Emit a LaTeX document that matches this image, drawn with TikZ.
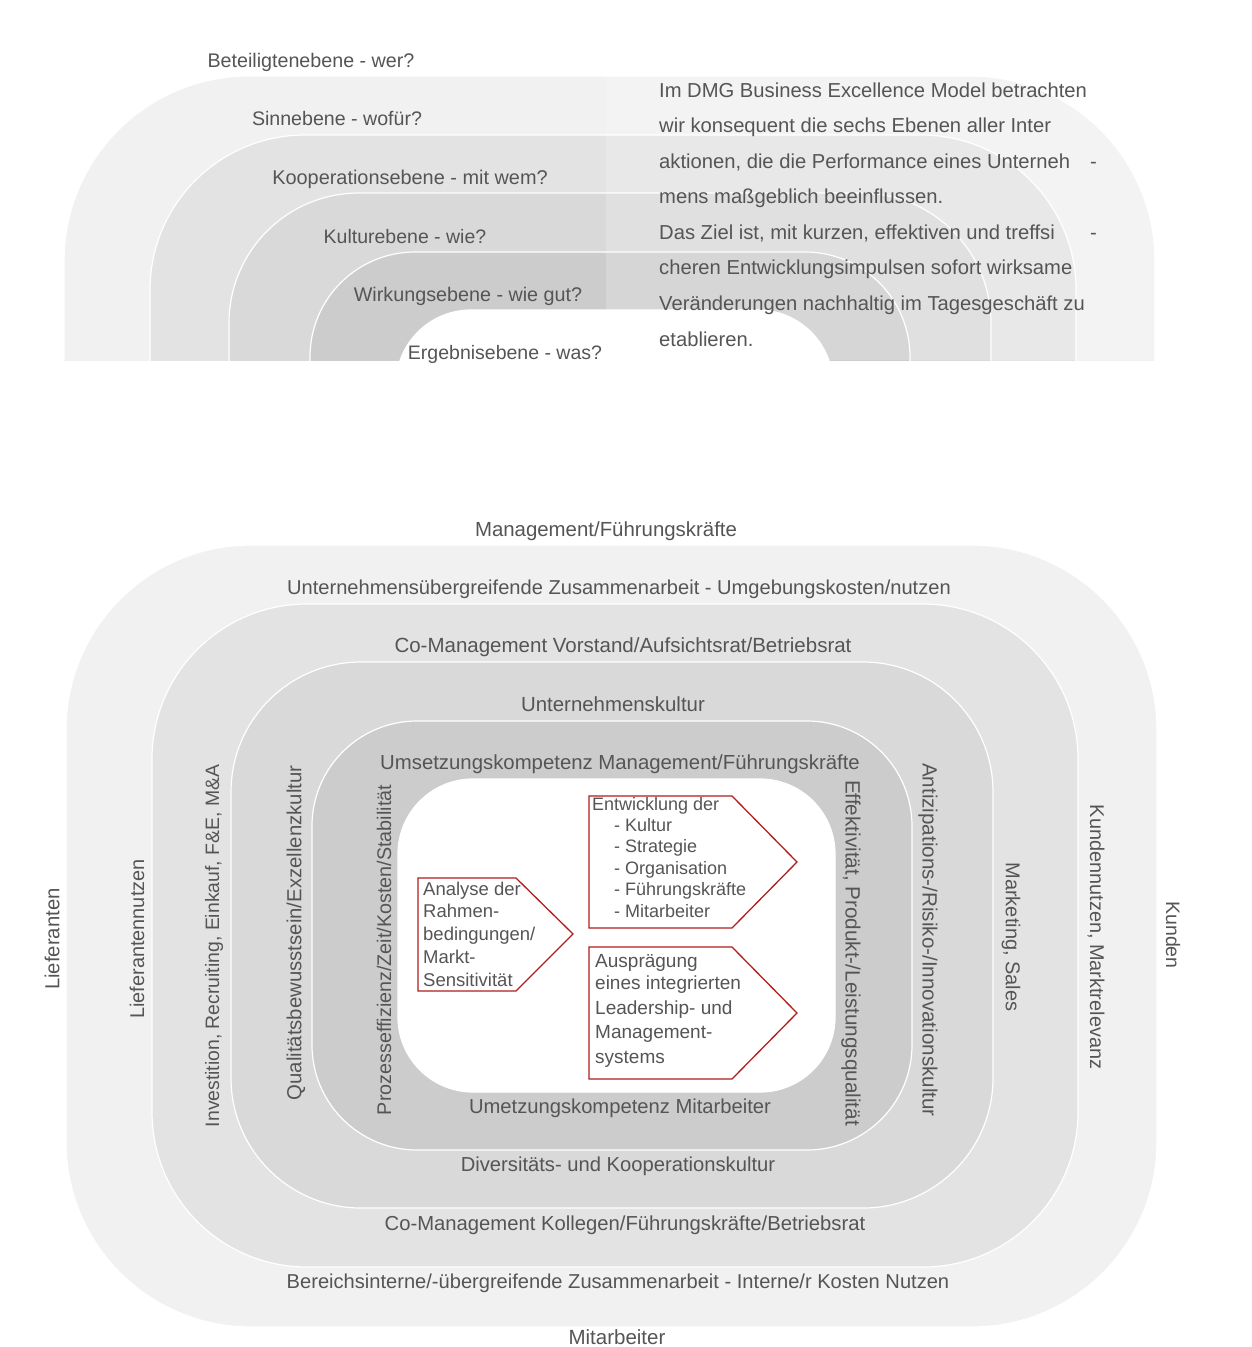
\documentclass[tikz,border=0pt]{standalone}
\usepackage{fontspec}
\setmainfont{Liberation Sans}
\definecolor{txt}{HTML}{555555}
\definecolor{bandA}{HTML}{F1F1F1}
\definecolor{bandB}{HTML}{E3E3E3}
\definecolor{bandC}{HTML}{D9D9D9}
\definecolor{bandD}{HTML}{CCCCCC}
\definecolor{dmgred}{HTML}{B01E1E}
\newcommand\drawbandset{%
  \draw[band, fill=bandA, rounded corners=185pt] (66,545) rectangle (1157,1327);
  \draw[band, fill=bandB, rounded corners=155pt] (152,604) rectangle (1078,1267);
  \draw[band, fill=bandC, rounded corners=130pt] (231,662) rectangle (993,1208);
  \draw[band, fill=bandD, rounded corners=105pt] (312,721) rectangle (912,1150);
  \draw[band, fill=white, rounded corners=75pt] (398,779) rectangle (835,1092);
}
\begin{document}
\begin{tikzpicture}[x=1pt,y=-1pt,
  band/.style={draw=white, line width=1.2pt},
  fsz/.style={font=\fontsize{#1}{#1}\selectfont},
  lbl/.style={anchor=base, inner sep=0pt, text=txt, fsz=20.3},
  para/.style={anchor=base west, inner sep=0pt, text=txt, fsz=20.2},
  vup/.style={rotate=90, anchor=center, inner sep=0pt, text=txt, fsz=20},
  vdown/.style={rotate=-90, anchor=center, inner sep=0pt, text=txt, fsz=20},
  redbox/.style={draw=dmgred, line width=1.3pt},
  boxtxt/.style={anchor=base west, inner sep=0pt, text=txt}
]
\fill[white] (0,0) rectangle (1251,1347);
\useasboundingbox (0,0) rectangle (1251,1347);

% ---------- top: six levels ----------
\begin{scope}
  \clip (0,0) rectangle (1251,360);
  \begin{scope}[shift={(-2,-469)}]
    \drawbandset
  \end{scope}
  \fill[white, opacity=0.2] (606,76) rectangle (1170,360);
\end{scope}

\node[lbl, fsz=19.7] (l1) at (311,67) {Beteiligtenebene - wer?};
\node[lbl, fsz=19.6] (l2) at (337,125) {Sinnebene - wofür?};
\node[lbl, fsz=19.9] (l3) at (410,184) {Kooperationsebene - mit wem?};
\node[lbl, fsz=19.5] (l4) at (405,243) {Kulturebene - wie?};
\node[lbl, fsz=19.75] (l5) at (468,301) {Wirkungsebene - wie gut?};
\node[lbl, fsz=19.5] (l6) at (505,359) {Ergebnisebene - was?};

\node[para] (p1) at (659,97) {Im DMG Business Excellence Model betrachten};
\node[para] (p2) at (659,132) {wir konsequent die sechs Ebenen aller Inter};
\node[para] (p3) at (659,168) {aktionen, die die Performance eines Unterneh};
\node[para] (p4) at (659,203) {mens maßgeblich beeinflussen.};
\node[para] (p5) at (659,239) {Das Ziel ist, mit kurzen, effektiven und treffsi};
\node[para] (p6) at (659,274) {cheren Entwicklungsimpulsen sofort wirksame};
\node[para] (p7) at (659,310) {Veränderungen nachhaltig im Tagesgeschäft zu};
\node[para] (p8) at (659,346) {etablieren.};
\node[para] (d1) at (1090,168) {-};
\node[para] (d2) at (1090,239) {-};

% ---------- bottom: model ----------
\drawbandset

\node[lbl, fsz=20.4] (t0) at (606,536) {Management/Führungskräfte};
\node[lbl, fsz=20.1] (t1) at (619,594) {Unternehmensübergreifende Zusammenarbeit - Umgebungskosten/nutzen};
\node[lbl, fsz=20.5] (t2) at (623,652) {Co-Management Vorstand/Aufsichtsrat/Betriebsrat};
\node[lbl, fsz=20.4] (t3) at (613,711) {Unternehmenskultur};
\node[lbl, fsz=20.35] (t4) at (620,769) {Umsetzungskompetenz Management/Führungskräfte};
\node[lbl, fsz=20.2] (b4) at (620,1113) {Umetzungskompetenz Mitarbeiter};
\node[lbl, fsz=20.2] (b3) at (618,1171) {Diversitäts- und Kooperationskultur};
\node[lbl, fsz=20.25] (b2) at (625,1230) {Co-Management Kollegen/Führungskräfte/Betriebsrat};
\node[lbl, fsz=20.1] (b1) at (618,1288) {Bereichsinterne/-übergreifende Zusammenarbeit - Interne/r Kosten Nutzen};
\node[lbl, fsz=20.5] (b0) at (617,1344.5) {Mitarbeiter};

\node[vup, fsz=20.3] (v0) at (52,939) {Lieferanten};
\node[vup, fsz=19.9] (v1) at (137,939) {Lieferantennutzen};
\node[vup, fsz=19.4] (v2) at (214,946) {Investition, Recruiting, Einkauf, F\&E, M\&A};
\node[vup, fsz=20.35] (v3) at (296,933) {Qualitätsbewusstsein/Exzellenzkultur};
\node[vup, fsz=19.75] (v4) at (384,950) {Prozesseffizienz/Zeit/Kosten/Stabilität};

\node[vdown, fsz=20.7] (r4) at (851,953) {Effektivität, Produkt-/Leistungsqualität};
\node[vdown, fsz=20.6] (r3) at (928,940) {Antizipations-/Risiko-/Innovationskultur};
\node[vdown, fsz=20] (r2) at (1011,937) {Marketing, Sales};
\node[vdown, fsz=19.9] (r1) at (1096,937) {Kundennutzen, Marktrelevanz};
\node[vdown, fsz=19.5] (r0) at (1173,935) {Kunden};

% ---------- arrow boxes ----------
\draw[redbox] (418,878) -- (516,878) -- (573,934) -- (516,991) -- (418,991) -- cycle;
\draw[redbox] (589,796) -- (732,796) -- (797,862) -- (732,928) -- (589,928) -- cycle;
\draw[redbox] (589,947) -- (732,947) -- (797,1013) -- (732,1079) -- (589,1079) -- cycle;

\begin{scope}[every node/.style={boxtxt, fsz=18.5}]
\node (a1) at (423,895) {Analyse der};
\node (a2) at (423,917) {Rahmen-};
\node (a3) at (423,940) {bedingungen/};
\node (a4) at (423,963) {Markt-};
\node (a5) at (423,986) {Sensitivität};
\end{scope}

\begin{scope}[every node/.style={boxtxt, fsz=18}]
\node (e0) at (592,810) {Entwicklung der};
\node (e1) at (614,831) {- Kultur};
\node (e2) at (614,852) {- Strategie};
\node (e3) at (614,874) {- Organisation};
\node (e4) at (614,895) {- Führungskräfte};
\node (e5) at (614,917) {- Mitarbeiter};
\end{scope}

\begin{scope}[every node/.style={boxtxt, fsz=19}]
\node (s1) at (595,967) {Ausprägung};
\node (s2) at (595,989) {eines integrierten};
\node (s3) at (595,1014) {Leadership- und};
\node (s4) at (595,1038) {Management-};
\node (s5) at (595,1063) {systems};
\end{scope}
\end{tikzpicture}
\end{document}
